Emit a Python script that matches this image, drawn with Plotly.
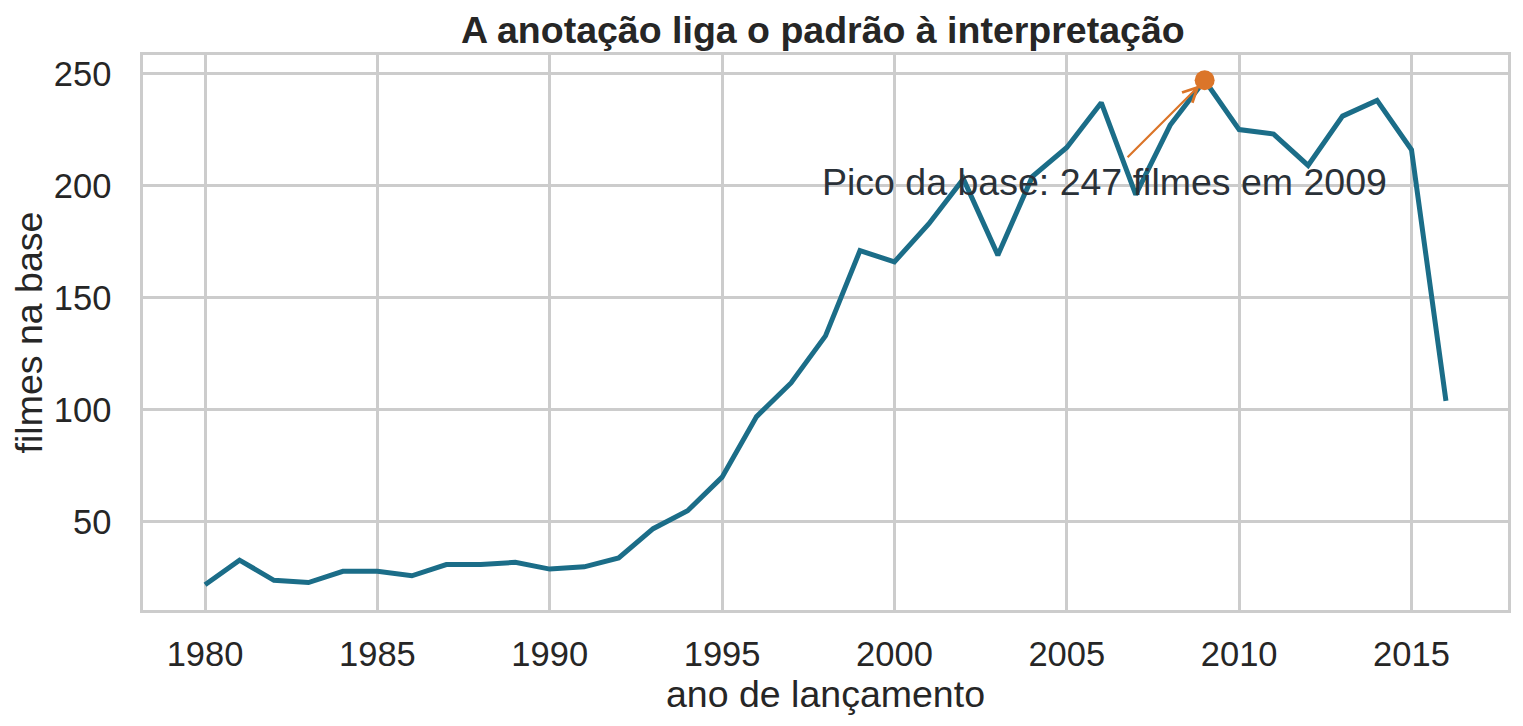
import plotly.graph_objects as go

anos = list(range(1980, 2017))
filmes = [22, 33, 24, 23, 28, 28, 26, 31, 31, 32, 29, 30, 34, 47, 55, 70,
          97, 112, 133, 171, 166, 183, 203, 169, 204, 217, 237, 196, 227, 247,
          225, 223, 209, 231, 238, 216, 104]

pico_ano = 2009
pico_val = 247
texto_pico = "Pico da base: 247 filmes em 2009"

azul = "#1b6d88"
laranja = "#db7529"
cinza_txt = "#262626"
fonte = "Liberation Sans, Arial, sans-serif"

fig = go.Figure()
fig.add_trace(go.Scatter(x=anos, y=filmes, mode="lines",
                         line=dict(color=azul, width=5), showlegend=False))
fig.add_trace(go.Scatter(x=[pico_ano], y=[pico_val], mode="markers",
                         marker=dict(color=laranja, size=20), showlegend=False))

# seta e texto separados, como no matplotlib
fig.add_annotation(x=pico_ano, y=pico_val, ax=2006.72, ay=212, axref="x", ayref="y",
                   xref="x", yref="y", text="", showarrow=True, arrowhead=5,
                   arrowsize=1.3, arrowwidth=2.2, arrowcolor=laranja, standoff=7)
fig.add_annotation(x=1997.85, y=201.5, xref="x", yref="y", xanchor="left", text=texto_pico,
                   showarrow=False, font=dict(size=37.5, color="#2a3138", family=fonte))

eixo = dict(showgrid=True, gridcolor="#cccccc", gridwidth=2.5, zeroline=False,
            showline=True, linecolor="#cccccc", linewidth=2.5, mirror=True,
            ticks="", tickfont=dict(size=34.5, color=cinza_txt, family=fonte))

fig.update_xaxes(eixo, range=[1978.2, 2017.8], tickvals=list(range(1980, 2016, 5)),
                 ticklabelstandoff=12,
                 title=dict(text="ano de lançamento", font=dict(size=37.5, color=cinza_txt, family=fonte),
                            standoff=3))
fig.update_yaxes(eixo, range=[10.75, 258.25], tickvals=[50, 100, 150, 200, 250],
                 ticklabelstandoff=22,
                 title=dict(text="filmes na base", font=dict(size=37.5, color=cinza_txt, family=fonte),
                            standoff=8))

fig.update_layout(
    width=1523, height=726,
    paper_bgcolor="white", plot_bgcolor="white",
    margin=dict(l=133, r=23, t=47, b=124),
    title=dict(text="<b>A anotação liga o padrão à interpretação</b>", x=0.535, xanchor="center",
               y=0.97, yanchor="middle", font=dict(size=37.5, color=cinza_txt, family=fonte)),
)

fig.write_html("out.html")
